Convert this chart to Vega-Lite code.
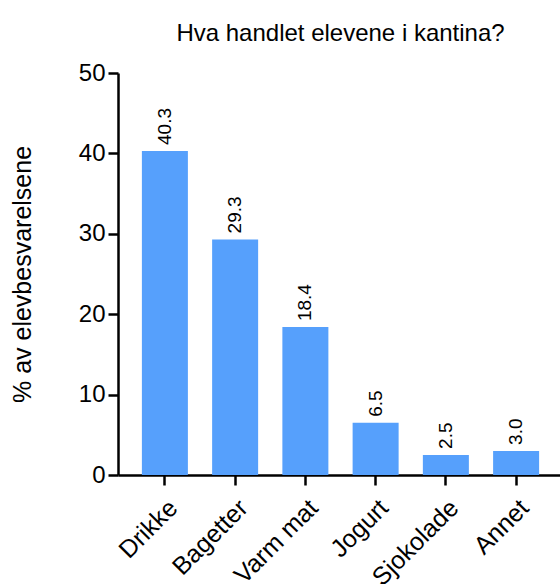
{
  "$schema": "https://vega.github.io/schema/vega-lite/v6.json",
  "autosize": {"type": "none"},
  "padding": {"left": 118, "top": 73, "right": 0, "bottom": 109},
  "width": 445,
  "height": 402,
  "background": "white",
  "title": {
    "text": "Hva handlet elevene i kantina?",
    "fontSize": 24,
    "fontWeight": "normal",
    "font": "Liberation Sans",
    "color": "black",
    "anchor": "middle",
    "offset": 15
  },
  "config": {
    "view": {"stroke": null},
    "font": "Liberation Sans"
  },
  "data": {
    "values": [
      {"kategori": "Drikke", "prosent": 40.3},
      {"kategori": "Bagetter", "prosent": 29.3},
      {"kategori": "Varm mat", "prosent": 18.4},
      {"kategori": "Jogurt", "prosent": 6.5},
      {"kategori": "Sjokolade", "prosent": 2.5},
      {"kategori": "Annet", "prosent": 3.0}
    ]
  },
  "encoding": {
    "x": {
      "field": "kategori",
      "type": "nominal",
      "sort": null,
      "scale": {"paddingInner": 0.345, "paddingOuter": 0.34},
      "axis": {
        "title": null,
        "labelAngle": -45,
        "labelFontSize": 25,
        "labelColor": "black",
        "labelFont": "Liberation Sans",
        "domainColor": "black",
        "domainWidth": 2.5,
        "tickColor": "black",
        "tickWidth": 2.5,
        "tickSize": 10,
        "labelPadding": 10
      }
    },
    "y": {
      "field": "prosent",
      "type": "quantitative",
      "scale": {"domain": [0, 50], "nice": false},
      "axis": {
        "title": "% av elevbesvarelsene",
        "titleFontSize": 25,
        "titleFontWeight": "normal",
        "titleColor": "black",
        "titleFont": "Liberation Sans",
        "titlePadding": 43,
        "values": [0, 10, 20, 30, 40, 50],
        "grid": false,
        "labelFontSize": 24,
        "labelColor": "black",
        "labelFont": "Liberation Sans",
        "labelPadding": 3,
        "domainColor": "black",
        "domainWidth": 2.5,
        "tickColor": "black",
        "tickWidth": 2.5,
        "tickSize": 10
      }
    }
  },
  "layer": [
    {
      "mark": {"type": "bar", "color": "#56A0FC"}
    },
    {
      "mark": {
        "type": "text",
        "angle": 270,
        "align": "left",
        "baseline": "middle",
        "dx": 6,
        "fontSize": 19,
        "color": "black",
        "font": "Liberation Sans"
      },
      "encoding": {
        "text": {"field": "prosent", "type": "quantitative", "format": ".1f"}
      }
    }
  ]
}
